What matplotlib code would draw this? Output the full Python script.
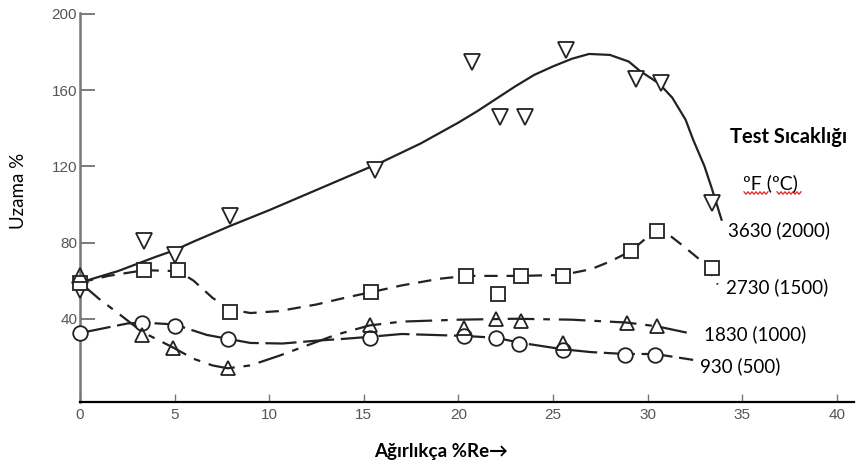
import numpy as np
import matplotlib
matplotlib.use("Agg")
import matplotlib.pyplot as plt
from matplotlib.lines import Line2D

# measured points (wt % Re, elongation %)
x_3630 = [0, 3.4, 5.0, 7.9, 15.6, 20.7, 22.2, 23.5, 25.7, 29.4, 30.7, 33.4]
y_3630 = [55, 81, 73.5, 94, 118, 175, 146, 146, 181, 166, 164, 101]
x_2730 = [0, 3.4, 5.2, 7.9, 15.4, 20.4, 22.1, 23.3, 25.5, 29.1, 30.5, 33.4]
y_2730 = [59, 65.5, 65.5, 43.5, 54, 62.5, 53, 62.5, 62.5, 75.5, 86, 66.5]
x_1830 = [0, 3.3, 4.9, 7.8, 15.3, 20.3, 22.0, 23.3, 25.5, 28.9, 30.5]
y_1830 = [63, 31.5, 24.5, 14, 36.5, 35, 40, 39, 27.5, 38, 36]
x_930 = [0, 3.3, 5.0, 7.8, 15.3, 20.3, 22.0, 23.2, 25.5, 28.8, 30.4]
y_930 = [32.5, 38, 36, 29.5, 30, 31, 30, 27, 23.5, 21, 21]

# hand-drawn fit curves
cx_3630 = [0, 2, 4, 5, 6, 8, 10, 12, 14, 16, 18, 20, 21, 22, 23, 24, 25, 26, 26.9,
           28, 29, 29.6, 30.6, 31.3, 32, 32.4, 33, 33.4, 33.9]
cy_3630 = [59, 65, 72.5, 76, 80.5, 89, 97, 105.5, 114, 122.5, 132, 143, 149, 155.5,
           162, 168, 172.5, 176.5, 179, 178.5, 175, 170, 163.5, 156, 144.5, 134, 120, 108, 92]
cx_2730 = [0, 1.5, 3.4, 5.2, 6, 7, 7.9, 9, 10.5, 12.5, 14, 15.4, 17, 19, 20.4, 22,
           23.3, 25.5, 27, 28, 29.1, 30, 30.5, 31, 31.9, 33, 33.7]
cy_2730 = [59, 62.5, 65.5, 65, 60, 51, 45, 43, 44, 47.5, 51, 54, 57.5, 61, 62.5, 62.5,
           62.5, 63, 66, 70, 75.5, 83, 86.5, 85, 78, 69, 58]
cx_1830 = [0, 1, 2, 3.3, 4.9, 6, 7, 7.8, 9, 10.5, 12, 13.5, 15.3, 17, 20, 23, 26,
           28.9, 30.5, 32.4]
cy_1830 = [59, 50.5, 43, 33, 25, 19, 15.5, 14, 15.5, 20.5, 26, 31.5, 36.5, 38.5,
           39.5, 40, 39.5, 38, 36, 32]
cx_930 = [0, 1.5, 2.5, 3.3, 5, 6.7, 7.8, 9, 10.7, 12.5, 14, 15.3, 17, 20.3, 22,
          23.2, 25.5, 27, 28.8, 30.4, 32.4]
cy_930 = [32.5, 35.5, 37.5, 38, 37, 31.5, 29.5, 27.3, 27, 28.5, 29.5, 30.5, 32, 31,
          30, 27.5, 24, 22.5, 21.5, 21.5, 18.4]

x_ticks = [0, 5, 10, 15, 20, 25, 30, 35, 40]
y_ticks = [40, 80, 120, 160, 200]
series_labels = ["3630 (2000)", "2730 (1500)", "1830 (1000)", "930 (500)"]

W, H = 861, 466
fig = plt.figure(figsize=(W / 100, H / 100), dpi=100)
ax = fig.add_axes([80 / W, (H - 402) / H, (854 - 80) / W, (402 - 13) / H])

ink = "#222222"
ax.plot(cx_3630, cy_3630, color=ink, lw=1.6, ls="-")
ax.plot(cx_2730, cy_2730, color=ink, lw=1.6, ls=(0, (6, 4)))
ax.plot(cx_1830, cy_1830, color=ink, lw=1.6, ls=(0, (12, 4, 3, 4)))
ax.plot(cx_930, cy_930, color=ink, lw=1.6, ls=(0, (14, 3)))

mk = dict(ls="none", mfc="white", mec=ink, mew=1.3, zorder=3, clip_on=False)
ax.plot(x_3630, y_3630, marker="v", ms=12, **mk)
ax.plot(x_2730, y_2730, marker="s", ms=9.5, **mk)
ax.plot(x_930, y_930, marker="o", ms=10.5, **mk)
ax.plot(x_1830, y_1830, marker="^", ms=9.5, **{**mk, "mfc": "none"})

ax.set_xlim(0, 40.9)
ax.set_ylim(-3.7, 200.5)
ax.set_xticks(x_ticks)
ax.set_xticklabels([str(t) for t in x_ticks])
ax.set_yticks(y_ticks)
ax.set_yticklabels([str(t) for t in y_ticks])
ax.tick_params(axis="y", direction="in", length=11, width=1.2, color="#666666",
               labelsize=11, labelcolor="#555555", pad=2)
ax.tick_params(axis="x", direction="in", length=6, width=1.0, color="#777777",
               labelsize=11, labelcolor="#555555", pad=4)
for lab in ax.get_xticklabels() + ax.get_yticklabels():
    lab.set_family("Liberation Sans")
for s in ("top", "right"):
    ax.spines[s].set_visible(False)
ax.spines["left"].set_color("#777777")
ax.spines["left"].set_linewidth(1.8)
ax.spines["bottom"].set_color("black")
ax.spines["bottom"].set_linewidth(1.6)
ax.patch.set_alpha(0)

fam = ["Lato", "DejaVu Sans"]


def ftext(px, py, s, **kw):
    fig.text(px / W, 1 - py / H, s, family=fam, **kw)


ftext(18, 191, "Uzama %", rotation=90, ha="center", va="center", fontsize=13.5)
ftext(441, 452, "Ağırlıkça %Re→", ha="center", va="center", fontsize=13.5, weight="bold")
ftext(730, 137, "Test Sıcaklığı", ha="left", va="center", fontsize=14.5, weight="bold")
ftext(743, 183, "ºF (ºC)", ha="left", va="center", fontsize=14)
ftext(728, 230, series_labels[0], ha="left", va="center", fontsize=13.5)
ftext(726, 287, series_labels[1], ha="left", va="center", fontsize=13.5)
ftext(704, 334, series_labels[2], ha="left", va="center", fontsize=13.5)
ftext(700, 366, series_labels[3], ha="left", va="center", fontsize=13.5)

# red spell-check squiggles under the unit text
for x0, x1 in [(744, 768), (777, 801)]:
    zx = np.arange(x0, x1 + 1, 2.0)
    zy = 193 + np.where(np.arange(zx.size) % 2 == 0, -1.2, 1.2)
    fig.add_artist(Line2D(zx / W, 1 - zy / H, color="#e02020", lw=0.9,
                          transform=fig.transFigure))

fig.savefig("out.png", facecolor="white")
